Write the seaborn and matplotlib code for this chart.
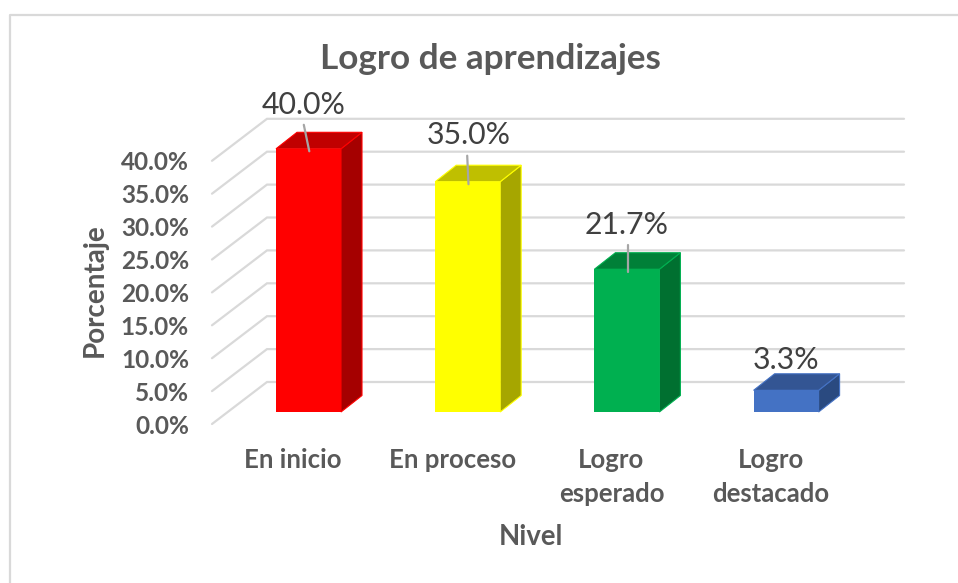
import matplotlib
matplotlib.use("Agg")
import matplotlib.pyplot as plt
from matplotlib.lines import Line2D
from matplotlib.patches import Polygon
import pandas as pd
import seaborn as sns

categories = ["En inicio", "En proceso", "Logro\nesperado", "Logro\ndestacado"]
values = [40.0, 35.0, 21.7, 3.3]
y_ticks = [0, 5, 10, 15, 20, 25, 30, 35, 40]
front_colors = ["#FF0000", "#FFFF00", "#00B050", "#4472C4"]
side_colors = ["#A50000", "#A6A600", "#007030", "#2A4A80"]
top_colors = ["#C00000", "#BFBF00", "#008038", "#335593"]

W, H = 958, 583
PX_PER_CAT = 159.2
PX_PER_PCT = 6.58
X0_PX, Y0_PX = 308.5, 412.0
LEFT_PX, RIGHT_PX, TOP_PX, BOTTOM_PX = 212, 904, 120, 424

def cat_dx(px):
    return px / PX_PER_CAT

def pct_dy(px):
    return px / PX_PER_PCT

sns.set_theme(style="white", rc={"font.family": ["Lato", "DejaVu Sans"]})
plt.rcParams["font.family"] = ["Lato", "DejaVu Sans"]

fig = plt.figure(figsize=(W / 100, H / 100), dpi=100, facecolor="white")
ax = fig.add_axes([LEFT_PX / W, 1 - BOTTOM_PX / H, (RIGHT_PX - LEFT_PX) / W, (BOTTOM_PX - TOP_PX) / H])
ax.patch.set_alpha(0)

df = pd.DataFrame({"Nivel": categories, "Porcentaje": values})
sns.barplot(data=df, x="Nivel", y="Porcentaje", hue="Nivel", order=categories,
            hue_order=categories, palette=front_colors, legend=False, width=65 / PX_PER_CAT,
            saturation=1, ax=ax, zorder=3, edgecolor="none")

ax.set_xlim(cat_dx(LEFT_PX - X0_PX), cat_dx(RIGHT_PX - X0_PX))
ax.set_ylim(pct_dy(Y0_PX - BOTTOM_PX), pct_dy(Y0_PX - TOP_PX))

# wall and floor gridlines in the depth plane
wall_back = pct_dy(30)
wall_front = pct_dy(-12)
x_left = ax.get_xlim()[0]
x_back = cat_dx(267 - X0_PX)
x_right = ax.get_xlim()[1]
for t in y_ticks:
    ax.plot([x_left, x_back, x_right], [t + wall_front, t + wall_back, t + wall_back],
            color="#D9D9D9", lw=1.6, zorder=1, solid_joinstyle="miter", clip_on=False)

# 3D faces of each column
half = 32.5 / PX_PER_CAT
ddx, ddy = cat_dx(21), pct_dy(16.5)
for i, v in enumerate(values):
    l, r = i - half, i + half
    side = [(r, 0), (r + ddx, ddy), (r + ddx, v + ddy), (r, v)]
    top = [(l, v), (l + ddx, v + ddy), (r + ddx, v + ddy), (r, v)]
    ax.add_patch(Polygon(side, closed=True, fc=side_colors[i], ec=front_colors[i], lw=0.8, zorder=2.6))
    ax.add_patch(Polygon(top, closed=True, fc=top_colors[i], ec=front_colors[i], lw=0.8, zorder=2.6))

# data labels and leader lines (offsets in pixels)
label_dx = [-4.5, 0.5, 0.0, 0.0]
label_dy = [43.5, 46.7, 44.0, 30.0]
leader_top = [24, 26, 24, 0]
leader_dx = [-5.5, -1.3, 0, 0]
for i, v in enumerate(values):
    ax.annotate(f"{v:.1f}%", xy=(i, v), xytext=(label_dx[i] * 0.72, label_dy[i] * 0.72),
                textcoords="offset points", ha="center", va="center",
                fontsize=21.8, color="#404040", zorder=6, annotation_clip=False)
    if leader_top[i]:
        ax.plot([i + cat_dx(leader_dx[i] + 0.8), i + cat_dx(0.8)],
                [v + pct_dy(leader_top[i]), v - pct_dy(2.5)],
                color="#A6A6A6", lw=1.6, zorder=5)

# axes text
ax.set_xticks([i + cat_dx(-15.5) for i in range(len(categories))])
ax.set_xticklabels(categories, fontsize=18.5, fontweight="bold", color="#595959", linespacing=1.5)
ax.set_yticks([t + wall_front for t in y_ticks])
ax.set_yticklabels([f"{t:.1f}%" for t in y_ticks], fontsize=17.6, fontweight="bold", color="#595959")
ax.tick_params(axis="x", length=0, pad=17)
ax.tick_params(axis="y", length=0, pad=16.5)
sns.despine(ax=ax, left=True, bottom=True)

ax.set_xlabel("Nivel", fontsize=19.8, fontweight="bold", color="#595959")
ax.set_ylabel("Porcentaje", fontsize=20, fontweight="bold", color="#595959")
ax.xaxis.set_label_coords((531 - LEFT_PX) / (RIGHT_PX - LEFT_PX), (BOTTOM_PX - 537) / (BOTTOM_PX - TOP_PX))
ax.xaxis.label.set_va("center")
ax.yaxis.set_label_coords((95 - LEFT_PX) / (RIGHT_PX - LEFT_PX), (BOTTOM_PX - 290) / (BOTTOM_PX - TOP_PX))
ax.yaxis.label.set_va("center")
ax.set_title("Logro de aprendizajes", fontsize=25.3, fontweight="bold", color="#595959", pad=0,
             x=(490 - LEFT_PX) / (RIGHT_PX - LEFT_PX), y=(BOTTOM_PX - 59) / (BOTTOM_PX - TOP_PX), va="center")

# chart frame
fig.add_artist(Line2D([9.5 / W, 9.5 / W, 958 / W], [0, 1 - 14.5 / H, 1 - 14.5 / H], color="#D9D9D9", lw=1.6))

fig.savefig("out.png", dpi=100, facecolor="white")
